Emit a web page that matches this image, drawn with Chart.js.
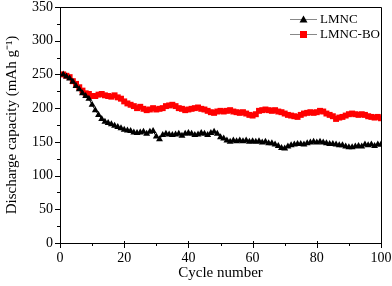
<!DOCTYPE html>
<html>
<head>
<meta charset="utf-8">
<script src="https://cdn.jsdelivr.net/npm/chart.js@4.4.1/dist/chart.umd.min.js"></script>
<style>
  html, body { margin: 0; padding: 0; background: #fff; }
  #wrap { width: 392px; height: 286px; }
</style>
</head>
<body>
<div id="wrap"><canvas id="chart-01" width="392" height="286"></canvas></div>
<script>
// cycle numbers 1..100
const cycles = [];
for (let i = 1; i <= 100; i++) cycles.push(i);

const lmnc = [
  250, 247, 244, 239, 233, 228, 222, 218, 214, 205,
  197, 190, 184, 180, 178, 176, 174, 172, 170, 168,
  167, 166, 164, 163, 164, 165, 162, 165, 166, 158,
  154, 160, 162, 161, 160, 161, 162, 159, 162, 163,
  162, 160, 161, 163, 162, 160, 163, 165, 162, 157,
  155, 152, 150, 152, 151, 152, 151, 152, 150, 151,
  150, 151, 149, 150, 148, 148, 146, 144, 141, 140,
  143, 145, 146, 147, 147, 146, 148, 149, 150, 149,
  150, 149, 148, 147, 147, 146, 145, 145, 143, 142,
  142, 143, 144, 143, 146, 145, 146, 144, 146, 146
];

const lmncBO = [
  250, 248, 246, 240, 236, 231, 226, 222, 221, 218,
  218, 220, 221, 219, 218, 217, 219, 216, 214, 210,
  207, 205, 203, 200, 202, 199, 197, 198, 200, 198,
  199, 200, 203, 204, 205, 203, 200, 199, 197, 198,
  199, 200, 201, 199, 198, 196, 194, 193, 195, 196,
  195, 196, 197, 195, 194, 193, 194, 192, 190, 189,
  191, 196, 197, 198, 197, 196, 197, 195, 194, 192,
  190, 189, 188, 187, 190, 192, 193, 194, 193, 194,
  196, 195, 192, 190, 188, 184, 186, 187, 189, 191,
  192, 191, 190, 191, 190, 188, 187, 186, 187, 185
];

const xTicks = [0, 20, 40, 60, 80, 100];
const yTicks = [0, 50, 100, 150, 200, 250, 300, 350];
const seriesNames = ['LMNC', 'LMNC-BO'];

const serif = '"Liberation Serif", "Times New Roman", serif';

// box around the plot, minor/major ticks and the legend
const framePlugin = {
  id: 'frame',
  afterDraw(chart) {
    const c = chart.ctx;
    const a = chart.chartArea;
    const xs = chart.scales.x, ys = chart.scales.y;
    c.save();
    c.setLineDash([]);
    c.lineWidth = 1;
    c.strokeStyle = '#000';
    c.beginPath();
    c.rect(Math.round(a.left) + 0.5, Math.round(a.top) + 0.5,
      Math.round(a.right - a.left), Math.round(a.bottom - a.top));
    for (let v = 0; v <= 100; v += 10) {
      const px = Math.round(xs.getPixelForValue(v)) + 0.5;
      const major = v % 20 === 0;
      c.moveTo(px, Math.round(a.bottom) - (major ? 2 : 0));
      c.lineTo(px, Math.round(a.bottom) + (major ? 5 : 3));
    }
    for (let v = 0; v <= 350; v += 25) {
      const py = Math.round(ys.getPixelForValue(v)) + 0.5;
      const len = v % 50 === 0 ? 5 : 3;
      c.moveTo(Math.round(a.left), py);
      c.lineTo(Math.round(a.left) - len, py);
    }
    c.stroke();

    // legend
    const items = [
      { y: 19, color: '#000', style: 'triangle' },
      { y: 34, color: '#ff0000', style: 'rect' }
    ];
    c.font = '13px ' + serif;
    c.textBaseline = 'middle';
    items.forEach((it, i) => {
      c.fillStyle = '#888';
      c.fillRect(290, it.y, 27, 1);
      c.fillStyle = it.color;
      if (it.style === 'triangle') {
        c.beginPath();
        c.moveTo(303.5, it.y - 3.5);
        c.lineTo(307.5, it.y + 3.5);
        c.lineTo(299.5, it.y + 3.5);
        c.closePath();
        c.fill();
      } else {
        c.fillRect(300, it.y - 3, 7, 7);
      }
      c.fillStyle = '#000';
      c.fillText(seriesNames[i], 320, it.y + 1);
    });
    c.restore();
  }
};

const ctx = document.getElementById('chart-01').getContext('2d');

const myChart = new Chart(ctx, {
  type: 'line',
  data: {
    labels: cycles,
    datasets: [
      {
        label: seriesNames[0],
        data: lmnc.map((v, i) => ({ x: cycles[i], y: v })),
        borderColor: '#000',
        backgroundColor: '#000',
        borderWidth: 1,
        pointStyle: 'triangle',
        pointRadius: 4,
        pointBorderWidth: 0,
        tension: 0
      },
      {
        label: seriesNames[1],
        data: lmncBO.map((v, i) => ({ x: cycles[i], y: v })),
        borderColor: '#ff0000',
        backgroundColor: '#ff0000',
        borderWidth: 1,
        pointStyle: 'rect',
        pointRadius: 4.2,
        pointBorderWidth: 0,
        tension: 0
      }
    ]
  },
  options: {
    responsive: false,
    animation: false,
    events: [],
    layout: { padding: { top: 7, right: 11, left: 0, bottom: 0 } },
    plugins: {
      legend: { display: false },
      tooltip: { enabled: false }
    },
    scales: {
      x: {
        type: 'linear',
        min: 0,
        max: 100,
        afterBuildTicks: s => { s.ticks = xTicks.map(v => ({ value: v })); },
        afterFit: s => {
          s.height = 43;
          s.paddingLeft = 0;
          s.paddingRight = 0;
        },
        grid: { display: false, drawTicks: false },
        border: { display: true, color: '#000', width: 1 },
        ticks: {
          color: '#000',
          font: { family: serif, size: 14 },
          padding: 7,
          maxRotation: 0
        },
        title: {
          display: true,
          text: 'Cycle number',
          color: '#000',
          font: { family: serif, size: 15 },
          padding: { top: 0, bottom: 4 }
        }
      },
      y: {
        min: 0,
        max: 350,
        afterBuildTicks: s => { s.ticks = yTicks.map(v => ({ value: v })); },
        afterFit: s => {
          s.width = 60;
          s.paddingTop = 0;
          s.paddingBottom = 0;
        },
        grid: { display: false, drawTicks: false },
        border: { display: true, color: '#000', width: 1 },
        ticks: {
          color: '#000',
          font: { family: serif, size: 14 },
          padding: 7
        },
        title: {
          display: true,
          text: 'Discharge capacity (mAh g\u207B\u00B9)',
          color: '#000',
          font: { family: serif, size: 15 },
          padding: { top: 3, bottom: 0 }
        }
      }
    }
  },
  plugins: [framePlugin]
});
</script>
</body>
</html>
